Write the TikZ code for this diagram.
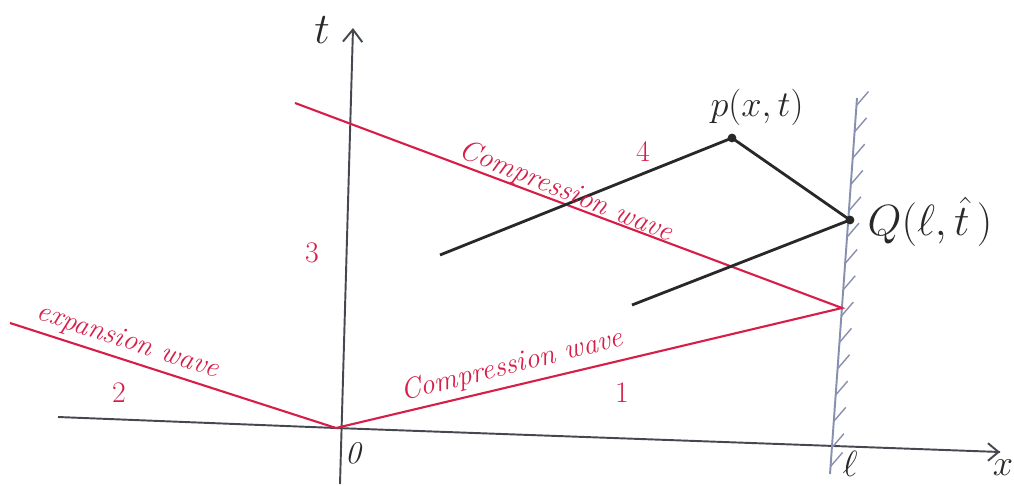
\documentclass[tikz,border=0pt]{standalone}
\usetikzlibrary{arrows.meta,calc}
\definecolor{wavered}{RGB}{214,30,72}
\definecolor{axisgray}{RGB}{70,72,80}
\definecolor{wallblue}{RGB}{135,145,175}
\definecolor{inkblack}{RGB}{40,40,40}
\tikzset{
  axisline/.style={draw=axisgray, line width=1.1pt},
  waveline/.style={draw=wavered, line width=1.2pt},
  charline/.style={draw=inkblack, line width=1.6pt},
  wallline/.style={draw=wallblue, line width=1.1pt},
  redlabel/.style={text=wavered, font=\itshape\fontsize{16.5}{18}\selectfont, inner sep=1pt},
  numlabel/.style={text=wavered, font=\fontsize{17}{19}\selectfont, inner sep=1pt},
  blacklabel/.style={text=inkblack, font=\fontsize{20}{22}\selectfont, inner sep=1pt},
  dotmark/.style={circle, fill=inkblack, inner sep=0pt, minimum size=5pt}
}
\begin{document}
\begin{tikzpicture}[x=0.02cm,y=-0.02cm]
\useasboundingbox (0,0) rectangle (1014,486);
% coordinates
\coordinate (O) at (336,428);
\coordinate (tbot) at (340,484);
\coordinate (ttop) at (353,28);
\coordinate (xleft) at (58,417);
\coordinate (xright) at (1000,452);
\coordinate (wtop) at (857,98);
\coordinate (wbot) at (830,474);
\coordinate (A) at (10,323);
\coordinate (W) at (842,308);
\coordinate (U) at (295,103);
\coordinate (B1) at (440,255);
\coordinate (B2) at (632,305);
% axes
\draw[axisline] (xleft) -- (O) -- (xright);
\draw[axisline, -{Straight Barb[length=6pt,width=10pt]}] (xright) ++(-5,0) -- (xright);
\draw[axisline, -{Straight Barb[length=7pt,width=11pt]}] (tbot) -- (ttop);
% wall
\draw[wallline] (wtop) -- (wbot);
\foreach \f in {0.02,0.09,0.16,0.23,0.30,0.37,0.44,0.51,0.58,0.65,0.72,0.79,0.86,0.93,0.98}{
  \draw[wallline, line width=0.8pt] ($(wtop)!\f!(wbot)$) -- ++(12,-14);
}
% waves
\draw[waveline] (A) -- (O) -- (W) -- (U);
% characteristics
\node[dotmark] (P) at (732,138) {};
\node[dotmark] (Q) at (850,220) {};
\draw[charline] (B1) -- (P.center) -- (Q.center);
\draw[charline] (B2) -- (Q.center);
% labels
\node[blacklabel, font=\fontsize{24}{26}\selectfont] (tl) at (322,30) {$t$};
\node[blacklabel, font=\fontsize{22}{24}\selectfont] (xl) at (1003,468) {$x$};
\node[blacklabel, font=\itshape\fontsize{18}{20}\selectfont] (zero) at (353,453) {0};
\node[blacklabel] (ell) at (850,464) {$\ell$};
\node[blacklabel, font=\fontsize{22}{24}\selectfont] (Pl) at (757,107) {$p(x,t)$};
\node[blacklabel, font=\fontsize{26}{28}\selectfont] (Ql) at (930,222) {$Q(\ell,\hat{t}\,)$};
\node[redlabel, rotate=-18] (ew) at (128,342) {expansion wave};
\node[redlabel, rotate=14] (cw1) at (512,366) {Compression wave};
\node[redlabel, rotate=-22] (cw2) at (566,192) {Compression wave};
\node[numlabel] (n2) at (119,393) {2};
\node[numlabel] (n1) at (622,393) {1};
\node[numlabel] (n3) at (312,253) {3};
\node[numlabel] (n4) at (643,152) {4};
\end{tikzpicture}
\end{document}
